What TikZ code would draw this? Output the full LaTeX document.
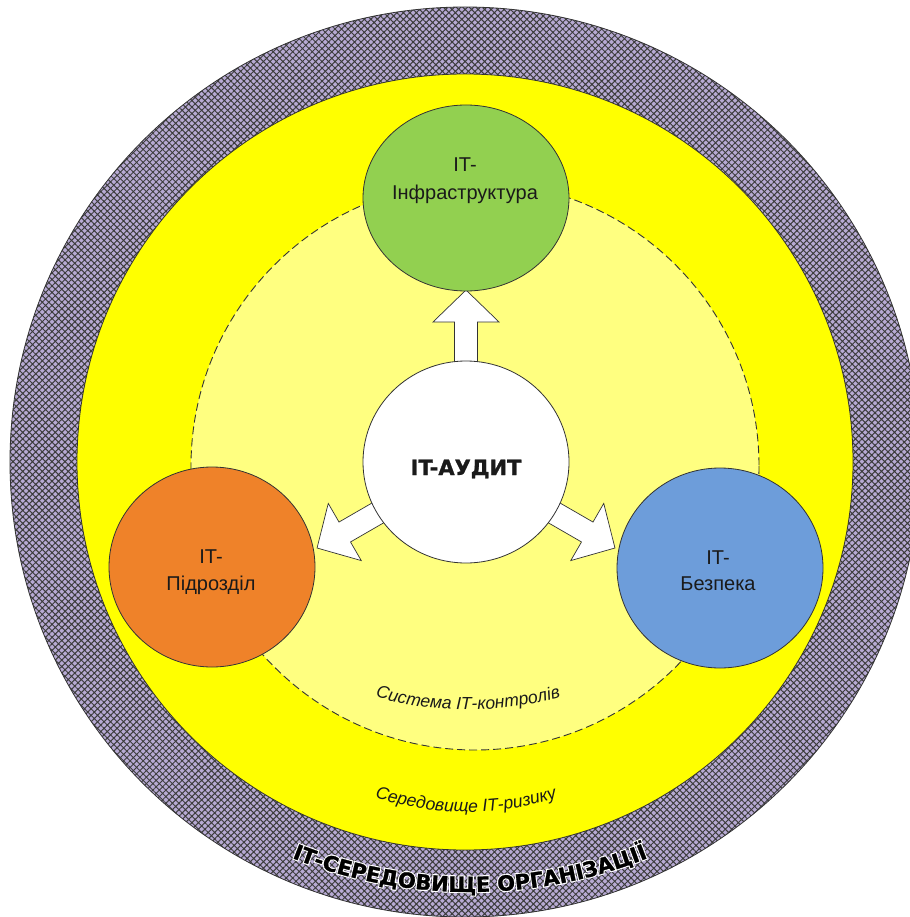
\documentclass[tikz,border=0pt]{standalone}
\usepackage{fontspec}
\setmainfont{Liberation Sans}
\newfontface\heavy{DejaVu Sans Bold}[FakeBold=1.2]
\newfontface\heavyhalo{DejaVu Sans Bold}[FakeBold=12]
\usetikzlibrary{shapes.geometric,patterns.meta,decorations.text}
\definecolor{lav}{HTML}{B7AAD3}
\definecolor{hatchc}{HTML}{3C3C3C}
\definecolor{ylw}{HTML}{FFFF00}
\definecolor{lylw}{HTML}{FFFF80}
\definecolor{grn}{HTML}{92D050}
\definecolor{org}{HTML}{EF8229}
\definecolor{blu}{HTML}{6D9DDA}
\definecolor{edge}{HTML}{333333}
\definecolor{txt}{HTML}{1A1A1A}
\begin{document}
\begin{tikzpicture}[x=1pt,y=-1pt,
  bubble/.style={ellipse, draw=edge, line width=0.8pt, inner sep=0pt},
  lbl/.style={anchor=base, text=txt, font=\fontsize{20}{24}\selectfont, inner sep=0pt},
  blockarrow/.style={fill=white, draw=edge, line width=0.7pt, line join=miter},
  arctext/.style={decorate, decoration={text along path, text align=center, text color=txt,
     text={|\itshape\fontsize{17.5}{20}\selectfont|#1}}},
  orgtext/.style 2 args={decorate, decoration={text along path, text align=center, text color=#1,
     text={|#2\fontsize{21}{24}\selectfont|IT-СЕРЕДОВИЩЕ ОРГАНІЗАЦІЇ}}}
]
\useasboundingbox (0,0) rectangle (909,917);
% outer ring
\path[fill=lav] (465,462) circle[radius=455];
\path[pattern={Hatch[angle=45,distance=4.6pt,line width=1pt]}, pattern color=hatchc] (465,462) circle[radius=455];
\draw[edge, line width=0.8pt] (465,462) circle[radius=455];
% yellow ring
\draw[edge, fill=ylw, line width=0.8pt] (465,462) circle[radius=388];
% control system
\fill[lylw] (475,466) circle[radius=284];
\draw[edge, line width=0.9pt, dash pattern=on 8pt off 4pt] (475,466) circle[radius=284];
% arrows
\coordinate (hub) at (466,462);
\foreach \r in {0,120,-120}{
  \begin{scope}[shift={(hub)}, rotate=\r]
    \draw[blockarrow] (-11.5,-90) -- (-11.5,-140) -- (-33,-140) -- (0,-172) -- (33,-140) -- (11.5,-140) -- (11.5,-90) -- cycle;
  \end{scope}
}
% circles
\node[bubble, fill=white, minimum width=206pt, minimum height=202pt] (audit) at (hub) {};
\node[bubble, fill=grn, minimum width=206pt, minimum height=186pt] (infra) at (466,198) {};
\node[bubble, fill=org, minimum width=206pt, minimum height=200pt] (unit) at (212,567) {};
\node[bubble, fill=blu, minimum width=206pt, minimum height=200pt] (sec) at (720,568) {};
% labels
\node[lbl] (infraA) at (465,172) {IT-};
\node[lbl] (infraB) at (465,200) {Інфраструктура};
\node[lbl] (unitA) at (211,563) {IT-};
\node[lbl] (unitB) at (211,590) {Підрозділ};
\node[lbl] (secA) at (718,564) {IT-};
\node[lbl] (secB) at (718,590) {Безпека};
\node[anchor=base, inner sep=0pt, text=txt, font=\heavy\fontsize{21}{24}\selectfont] (auditT) at (466,475) {IT-АУДИТ};
% curved labels
\path[arctext={Система IT-контролів}] (468,380) ++(125:330) arc[start angle=125, end angle=55, radius=330];
\path[arctext={Середовище IT-ризику}] (466,512) ++(125:300) arc[start angle=125, end angle=55, radius=300];
\path[orgtext={white}{\heavyhalo}] (470,410) ++(120:482) arc[start angle=120, end angle=60, radius=482];
\path[orgtext={black}{\heavy}] (470,410) ++(120:482) arc[start angle=120, end angle=60, radius=482];
\end{tikzpicture}
\end{document}
